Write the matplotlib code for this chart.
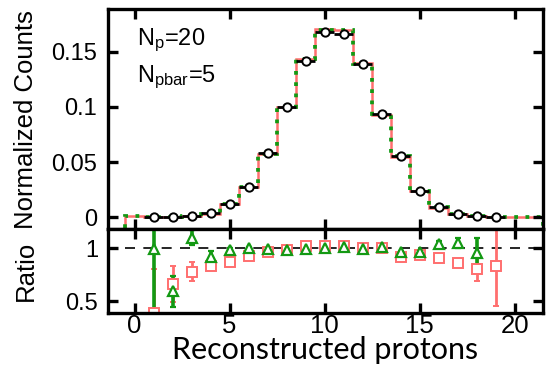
import numpy as np
import matplotlib
matplotlib.use('Agg')
import matplotlib.pyplot as plt

plt.rcParams['font.family'] = ['Liberation Sans', 'DejaVu Sans']
plt.rcParams['mathtext.default'] = 'regular'

# bin centres and histogram contents (normalized)
bins = np.arange(0, 22)
data_counts = [0.0, 0.0005, 0.0006, 0.0012, 0.0035, 0.012, 0.0278, 0.058, 0.0998, 0.142, 0.1676,
               0.166, 0.139, 0.0935, 0.0555, 0.0242, 0.009, 0.0028, 0.0012, 0.0005, 0.0, 0.0]
red_counts = [0.0008, 0.0006, 0.0006, 0.0011, 0.0033, 0.0118, 0.0275, 0.0572, 0.0998, 0.1435, 0.1704,
              0.1700, 0.1395, 0.0930, 0.0550, 0.0238, 0.0088, 0.0026, 0.0011, 0.0004, 0.0002, 0.0002]
green_counts = [0.0008, 0.0006, 0.0006, 0.0012, 0.0034, 0.0119, 0.0276, 0.0575, 0.0996, 0.1430, 0.1695,
                0.1692, 0.1392, 0.0932, 0.0552, 0.0240, 0.0090, 0.0027, 0.0012, 0.0005, 0.0002, 0.0002]

# ratio panel
red_x = np.arange(1, 20)
red_ratio = [0.39, 0.66, 0.78, 0.83, 0.865, 0.93, 0.965, 0.985, 1.02, 1.02,
             1.02, 1.0, 1.0, 0.92, 0.935, 0.905, 0.86, 0.80, 0.835]
red_err = [0.41, 0.17, 0.09, 0.03, 0.015, 0.01, 0.01, 0.01, 0.01, 0.01,
           0.01, 0.01, 0.01, 0.01, 0.015, 0.02, 0.03, 0.11, 0.38]
green_x = np.arange(1, 19)
green_ratio = [0.99, 0.594, 1.10, 0.916, 0.984, 1.0, 0.99, 0.98, 0.99, 1.0,
               1.007, 0.99, 1.007, 0.96, 0.96, 1.04, 1.05, 0.953]
green_err = [0.8, 0.145, 0.07, 0.055, 0.02, 0.01, 0.01, 0.01, 0.01, 0.01,
             0.01, 0.01, 0.01, 0.01, 0.015, 0.03, 0.05, 0.14]

red = '#ff6f6f'
green = '#139913'
edges = np.arange(-0.5, 22.0, 1.0)

fig = plt.figure(figsize=(5.48, 3.68), dpi=100)
ax1 = fig.add_axes([0.197, 0.3777, 0.794, 0.598])
ax2 = fig.add_axes([0.197, 0.1495, 0.794, 0.2282])

ax1.stairs(red_counts, edges, baseline=-0.05, color=red, lw=1.8)
ax1.stairs(green_counts, edges, baseline=-0.05, color=green, lw=2.7,
           linestyle=(0, (1, 2.0)))
ax1.errorbar(bins[1:20], data_counts[1:20], xerr=0.5, fmt='o', mfc='white', mec='black',
             ecolor='black', elinewidth=2, ms=6, mew=1.4, capsize=0)
ax1.set_ylim(-0.0106, 0.1887)
ax1.set_xlim(-1.4, 21.5)
ax1.set_yticks([0, 0.05, 0.1, 0.15])
ax1.set_yticklabels(['0', '0.05', '0.1', '0.15'])
ax1.set_xticks([0, 5, 10, 15, 20])
ax1.tick_params(labelbottom=False)
ax1.text(0.067, 0.836, 'N$_{p}$=20', transform=ax1.transAxes, fontsize=17, va='baseline')
ax1.text(0.067, 0.668, 'N$_{pbar}$=5', transform=ax1.transAxes, fontsize=17, va='baseline')

ax2.axhline(1.0, xmin=0.04, color='black', lw=1.2, dashes=(6, 5))
ax2.errorbar(red_x, red_ratio, yerr=red_err, fmt='s', mfc='white', mec=red, ecolor=red,
             elinewidth=2, ms=7, mew=1.4, capsize=2.5, capthick=2.5)
ax2.errorbar(green_x, green_ratio, yerr=green_err, fmt='^', mfc='white', mec=green, ecolor=green,
             elinewidth=2.6, ms=7, mew=1.6, capsize=2.5, capthick=3)
ax2.set_ylim(0.39, 1.18)
ax2.set_xlim(-1.4, 21.5)
ax2.set_yticks([0.5, 1])
ax2.set_yticklabels(['0.5', '1'])
ax2.set_xticks([0, 5, 10, 15, 20])

for ax in (ax1, ax2):
    for s in ax.spines.values():
        s.set_linewidth(2.4)
    ax.tick_params(direction='in', length=7, width=2.4, top=True, right=True)
ax1.tick_params(axis='y', labelsize=17, pad=8)
ax2.tick_params(axis='y', labelsize=17, pad=7)
ax2.tick_params(axis='x', labelsize=18.5, pad=0.5)

fig.text(0.048, 0.675, 'Normalized Counts', rotation=90, fontsize=18.5, ha='center', va='center')
fig.text(0.048, 0.265, 'Ratio', rotation=90, fontsize=18.5, ha='center', va='center')
fig.text(0.593, 0.024, 'Reconstructed protons', fontsize=22, ha='center', va='baseline',
         family=['Lato', 'DejaVu Sans'])

fig.savefig('out.png', dpi=100)
